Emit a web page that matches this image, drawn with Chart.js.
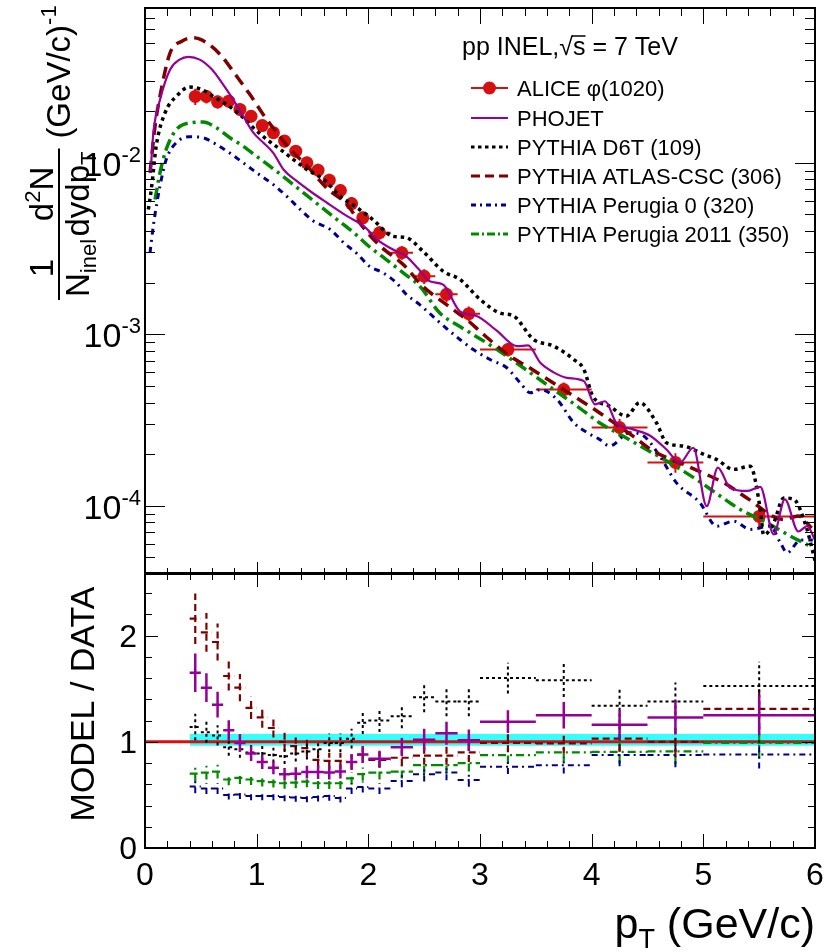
<!DOCTYPE html>
<html>
<head>
<meta charset="utf-8">
<script src="https://cdn.jsdelivr.net/npm/chart.js@4.4.0/dist/chart.umd.min.js"></script>
<style>
  body { margin: 0; background: #fff; }
  #wrap { position: relative; width: 825px; height: 952px; }
  canvas { position: absolute; left: 0; top: 0; }
</style>
</head>
<body>
<div id="wrap">
  <canvas id="topChart" width="825" height="952"></canvas>
  <canvas id="ratioChart" width="825" height="952"></canvas>
</div>
<script>
// pT bins of the ALICE phi(1020) measurement (GeV/c)
const binEdges = [0.4, 0.5, 0.6, 0.7, 0.8, 0.9, 1.0, 1.1, 1.2, 1.3, 1.4, 1.5, 1.6, 1.7, 1.8, 1.9, 2.0,
  2.2, 2.4, 2.6, 2.8, 3.0, 3.5, 4.0, 4.5, 5.0, 6.0];
const aliceYield = [0.0244, 0.0244, 0.0227, 0.0229, 0.0205, 0.0187, 0.0165, 0.0150, 0.0134, 0.0117,
  0.0100, 0.00906, 0.00792, 0.00690, 0.00579, 0.00478, 0.00391, 0.00299, 0.00218, 0.00171,
  0.00132, 0.000815, 0.000476, 0.000286, 0.000179, 0.0000867];
const aliceRelErr = [0.11, 0.09, 0.09, 0.085, 0.085, 0.08, 0.08, 0.08, 0.085, 0.085, 0.085, 0.09, 0.09,
  0.09, 0.09, 0.09, 0.09, 0.09, 0.10, 0.10, 0.10, 0.09, 0.10, 0.12, 0.13, 0.15];

// model spectra (pT, yield)
const phojetPt = [0.05, 0.075, 0.135, 0.225, 0.31, 0.39, 0.49, 0.60, 0.70, 0.79, 0.88, 0.97, 1.06, 1.15,
  1.24, 1.36, 1.48, 1.63, 1.81, 1.96, 2.08, 2.22, 2.34, 2.45, 2.55, 2.67, 2.82, 2.97, 3.15, 3.33, 3.43,
  3.54, 3.66, 3.78, 3.93, 4.03, 4.12, 4.22, 4.37, 4.52, 4.67, 4.79, 4.91, 5.03, 5.13, 5.24, 5.39, 5.51,
  5.63, 5.73, 5.85, 5.93, 6.0];
const phojetVal = [0.00875, 0.0150, 0.0234, 0.0350, 0.0400, 0.0415, 0.0400, 0.0350, 0.0286, 0.0234,
  0.0187, 0.0150, 0.0131, 0.0114, 0.00914, 0.00782, 0.00683, 0.00585, 0.00489, 0.00427, 0.00357,
  0.00312, 0.00285, 0.00240, 0.00204, 0.00195, 0.00136, 0.00128, 0.00105, 0.000853, 0.000861,
  0.000682, 0.000600, 0.000557, 0.000533, 0.000390, 0.000407, 0.000305, 0.000279, 0.000257,
  0.000213, 0.000178, 0.000218, 0.0000995, 0.000167, 0.000127, 0.000122, 0.000129, 0.0000681,
  0.000109, 0.0000708, 0.0000760, 0.0000631];

const d6tPt = [0.03, 0.06, 0.10, 0.18, 0.28, 0.40, 0.51, 0.61, 0.73, 0.85, 0.97, 1.09, 1.21, 1.33, 1.45,
  1.60, 1.75, 1.90, 2.04, 2.22, 2.34, 2.49, 2.67, 2.82, 3.0, 3.18, 3.30, 3.48, 3.66, 3.84, 3.93, 4.01,
  4.16, 4.31, 4.43, 4.58, 4.67, 4.82, 5.0, 5.12, 5.27, 5.42, 5.51, 5.54, 5.63, 5.72, 5.81, 5.92, 6.0];
const d6tVal = [0.00534, 0.00731, 0.0125, 0.0196, 0.0244, 0.0277, 0.0267, 0.0244, 0.0219, 0.0191,
  0.0160, 0.0137, 0.0120, 0.01045, 0.00914, 0.0080, 0.00638, 0.00547, 0.00467, 0.00373, 0.00366,
  0.00305, 0.00233, 0.00209, 0.00160, 0.00133, 0.00128, 0.000933, 0.000853, 0.000713, 0.000624,
  0.000436, 0.000381, 0.000333, 0.000399, 0.000305, 0.000233, 0.000223, 0.000200, 0.000186,
  0.000163, 0.000170, 0.0000955, 0.0000676, 0.0000794, 0.000111, 0.000109, 0.0000759, 0.0000479];

const atlasPt = [0.045, 0.09, 0.134, 0.224, 0.33, 0.433, 0.552, 0.672, 0.821, 0.94, 1.06, 1.18, 1.30,
  1.45, 1.63, 1.81, 1.93, 2.10, 2.31, 2.49, 2.70, 2.90, 3.0, 3.27, 3.42, 3.84, 4.03, 4.37, 4.55,
  4.88, 5.21, 5.39, 5.72, 5.85, 5.97];
const atlasVal = [0.00875, 0.0164, 0.0244, 0.0437, 0.0512, 0.0536, 0.0501, 0.0429, 0.0320, 0.0250,
  0.0191, 0.0150, 0.0120, 0.0096, 0.0071, 0.0057, 0.0044, 0.0033, 0.00256, 0.0019, 0.00149,
  0.00119, 0.00104, 0.000745, 0.000652, 0.000436, 0.000363, 0.000255, 0.000209, 0.000168,
  0.000133, 0.000111, 0.0000832, 0.0000871, 0.0000741];

const perugia0Pt = [0.045, 0.074, 0.134, 0.19, 0.28, 0.40, 0.52, 0.64, 0.76, 0.88, 1.0, 1.15, 1.27,
  1.39, 1.51, 1.66, 1.78, 1.90, 2.01, 2.13, 2.25, 2.34, 2.46, 2.64, 2.82, 2.94, 3.09, 3.24, 3.36,
  3.45, 3.54, 3.69, 3.84, 3.96, 4.07, 4.16, 4.34, 4.46, 4.61, 4.76, 4.97, 5.12, 5.27, 5.42, 5.60,
  5.69, 5.75, 5.87, 5.98];
const perugia0Val = [0.00299, 0.00427, 0.00731, 0.01045, 0.0131, 0.0142, 0.0140, 0.0128, 0.0114,
  0.0100, 0.00875, 0.00746, 0.00638, 0.00535, 0.00457, 0.00408, 0.00342, 0.00295, 0.00249,
  0.00229, 0.00200, 0.00171, 0.00149, 0.00117, 0.000933, 0.000815, 0.000713, 0.000638, 0.000521,
  0.000456, 0.000476, 0.000417, 0.000305, 0.000267, 0.000244, 0.000223, 0.000267, 0.000257,
  0.000195, 0.000136, 0.000104, 0.0000760, 0.0000813, 0.0000728, 0.0000760, 0.0000608,
  0.0000532, 0.0000631, 0.0000631];

const perugia11Pt = [0.09, 0.134, 0.19, 0.28, 0.40, 0.52, 0.64, 0.76, 0.88, 1.0, 1.12, 1.27, 1.42,
  1.57, 1.72, 1.87, 2.01, 2.16, 2.31, 2.46, 2.64, 2.82, 3.06, 3.24, 3.45, 3.66, 3.87, 4.07, 4.28,
  4.49, 4.70, 4.94, 5.15, 5.33, 5.57, 5.78, 5.96];
const perugia11Val = [0.00611, 0.00875, 0.0120, 0.0156, 0.0171, 0.0173, 0.0160, 0.0140, 0.0125,
  0.0109, 0.00955, 0.0080, 0.00668, 0.00558, 0.00467, 0.00391, 0.00324, 0.00273, 0.00229,
  0.00191, 0.00133, 0.00111, 0.000891, 0.000745, 0.000597, 0.000476, 0.000381, 0.000305,
  0.000255, 0.000213, 0.000178, 0.000142, 0.000114, 0.0000951, 0.0000796, 0.0000665, 0.0000581];

// MODEL / DATA ratios, one value per ALICE bin
const ratioPhojet = [1.65, 1.51, 1.35, 1.11, 0.99, 0.89, 0.81, 0.755, 0.695, 0.70, 0.715, 0.715, 0.71,
  0.72, 0.81, 0.88, 0.84, 0.95, 1.02, 1.08, 1.015, 1.19, 1.25, 1.16, 1.23, 1.25];
const ratioD6T = [1.14, 1.09, 1.06, 0.95, 0.93, 0.90, 0.89, 0.875, 0.865, 0.89, 0.91, 0.93, 0.99, 0.99,
  1.03, 1.18, 1.20, 1.24, 1.42, 1.38, 1.38, 1.60, 1.58, 1.34, 1.38, 1.525];
const ratioAtlas = [2.16, 2.03, 1.94, 1.62, 1.51, 1.32, 1.23, 1.13, 1.00, 0.96, 0.94, 0.83, 0.82, 0.82,
  0.81, 0.88, 0.83, 0.85, 0.87, 0.87, 0.90, 0.99, 0.985, 1.03, 1.00, 1.31];
const ratioPerugia0 = [0.58, 0.56, 0.56, 0.50, 0.505, 0.49, 0.49, 0.49, 0.48, 0.475, 0.47, 0.48, 0.49,
  0.47, 0.56, 0.575, 0.56, 0.63, 0.695, 0.71, 0.64, 0.765, 0.78, 0.875, 0.875, 0.88];
const ratioPerugia11 = [0.70, 0.71, 0.72, 0.645, 0.66, 0.645, 0.63, 0.62, 0.61, 0.615, 0.625, 0.61,
  0.61, 0.61, 0.655, 0.695, 0.71, 0.72, 0.78, 0.78, 0.80, 0.875, 0.90, 0.905, 0.91, 0.99];

// data uncertainty band and unity line in the ratio panel
const bandPt = [0.4, 6.0];
const bandLow = [0.963, 0.963];
const bandHigh = [1.073, 1.073];
const unityPt = [0, 6];
const unityVal = [1, 1];

// axis ticks
const xTickLabels = [0, 1, 2, 3, 4, 5, 6];
const logTickExps = [-2, -3, -4];
const ratioTickLabels = [0, 1, 2];

const legendTitle = 'pp INEL,';
const legendLabels = ['ALICE \u03c6(1020)', 'PHOJET', 'PYTHIA D6T (109)', 'PYTHIA ATLAS-CSC (306)',
  'PYTHIA Perugia 0 (320)', 'PYTHIA Perugia 2011 (350)'];

const FONT = '"Liberation Sans", Arial, Helvetica, sans-serif';
const font = (s) => `${s}px ${FONT}`;

const RED = '#d41010';
const PURPLE = '#960096';
const DKRED = '#800000';
const BLUE = '#00008f';
const GREEN = '#008a00';
const CYAN = '#33ffff';

const toXY = (xs, ys) => xs.map((x, i) => ({ x: x, y: ys[i] }));

// horizontal bin bar + vertical error bar for every bin, gaps between
const binBars = (vals, relErr) => {
  let pts = [];
  vals.forEach((v, i) => {
    let lo = binEdges[i];
    let hi = binEdges[i + 1];
    let c = (lo + hi) / 2;
    let e = v * relErr[i];
    pts.push({ x: lo, y: v }, { x: hi, y: v }, { x: hi, y: null });
    pts.push({ x: c, y: v - e }, { x: c, y: v + e }, { x: c, y: null });
  });
  return pts;
};
const binCenters = binEdges.slice(0, -1).map((lo, i) => (lo + binEdges[i + 1]) / 2);

const textRun = (ctx, pieces, x, y, rot, align) => {
  let total = 0;
  pieces.forEach((p) => {
    ctx.font = font(p.s);
    p.w = ctx.measureText(p.t).width;
    total += p.w;
  });
  ctx.save();
  ctx.translate(x, y);
  if (rot) ctx.rotate(rot);
  let u = align === 'center' ? -total / 2 : align === 'right' ? -total : 0;
  ctx.fillStyle = '#000';
  ctx.textAlign = 'left';
  ctx.textBaseline = 'alphabetic';
  pieces.forEach((p) => {
    ctx.font = font(p.s);
    ctx.fillText(p.t, u, p.dy || 0);
    u += p.w;
  });
  ctx.restore();
  return total;
};

// ROOT style frame with inward ticks on all four sides
const rootFrame = {
  id: 'rootFrame',
  afterDraw(chart, args, opts) {
    const { ctx, chartArea: a, scales } = chart;
    const xs = scales.x;
    const ys = scales.y;
    ctx.save();
    ctx.strokeStyle = '#000';
    ctx.lineWidth = 1;
    ctx.beginPath();
    for (let i = 0; i <= 30; i++) {
      let px = Math.round(xs.getPixelForValue(i * 0.2)) + 0.5;
      let major = i % 5 === 0;
      let lt = major ? opts.xTop[0] : opts.xTop[1];
      let lb = major ? opts.xBot[0] : opts.xBot[1];
      ctx.moveTo(px, a.top);
      ctx.lineTo(px, a.top + lt);
      ctx.moveTo(px, a.bottom);
      ctx.lineTo(px, a.bottom - lb);
    }
    opts.yTicks(ys).forEach((t) => {
      let py = Math.round(ys.getPixelForValue(t.v)) + 0.5;
      if (py < a.top - 1 || py > a.bottom + 1) return;
      let len = t.major ? opts.yLen[0] : opts.yLen[1];
      ctx.moveTo(a.left, py);
      ctx.lineTo(a.left + len, py);
      ctx.moveTo(a.right, py);
      ctx.lineTo(a.right - len, py);
    });
    ctx.stroke();
    ctx.lineWidth = 2;
    ctx.strokeRect(a.left, a.top, a.right - a.left, a.bottom - a.top);
    ctx.restore();
  },
};

const logTicks = (ys) => {
  let t = [];
  for (let d = -5; d <= -2; d++) {
    for (let k = 1; k <= 9; k++) {
      let v = k * Math.pow(10, d);
      if (v >= ys.min && v <= ys.max) t.push({ v: v, major: k === 1 });
    }
  }
  return t;
};
const linTicks = (ys) => {
  let t = [];
  for (let i = 0; i <= 12; i++) t.push({ v: i * 0.2, major: i % 5 === 0 });
  return t;
};

const topDecor = {
  id: 'topDecor',
  afterDraw(chart) {
    const { ctx, scales: { y } } = chart;
    const ds = chart.data.datasets;
    ctx.save();
    // log axis labels
    logTickExps.forEach((e) => {
      let py = y.getPixelForValue(Math.pow(10, e));
      textRun(ctx, [{ t: '10', s: 34 }, { t: String(e), s: 22, dy: -14 }], 141, py + 13, 0, 'right');
    });

    // y title, rotated
    const R = -Math.PI / 2;
    textRun(ctx, [{ t: '1', s: 33 }], 53, 268, R, 'center');
    let wN = textRun(ctx, [{ t: 'N', s: 33 }, { t: 'inel', s: 22, dy: 7 }], 89, 268, R, 'center');
    textRun(ctx, [{ t: 'd', s: 33 }, { t: '2', s: 22, dy: -13 }, { t: 'N', s: 33 }], 53, 194, R, 'center');
    let wD = textRun(ctx, [{ t: 'dydp', s: 33 }, { t: 'T', s: 22, dy: 7 }], 89, 194, R, 'center');
    textRun(ctx, [{ t: '(GeV/c)', s: 33 }, { t: '-1', s: 22, dy: -14 }], 70, 72, R, 'center');
    ctx.strokeStyle = '#000';
    ctx.lineWidth = 2;
    ctx.beginPath();
    ctx.moveTo(59, 268 + wN / 2 + 3);
    ctx.lineTo(59, 268 - wN / 2 - 3);
    ctx.moveTo(59, 194 + wD / 2 + 3);
    ctx.lineTo(59, 194 - wD / 2 - 3);
    ctx.stroke();

    // legend header with sqrt(s)
    let hx = 462;
    let hy = 55;
    hx += textRun(ctx, [{ t: legendTitle, s: 25 }], hx, hy);
    let wr = textRun(ctx, [{ t: '\u221a', s: 25 }], hx, hy);
    let ws = textRun(ctx, [{ t: 's', s: 25 }], hx + wr, hy);
    ctx.lineWidth = 1.5;
    ctx.beginPath();
    ctx.moveTo(hx + wr - 1, hy - 19);
    ctx.lineTo(hx + wr + ws, hy - 19);
    ctx.stroke();
    textRun(ctx, [{ t: ' = 7 TeV', s: 25 }], hx + wr + ws, hy);

    // legend entries, styled from the datasets
    const rows = [88, 118, 147, 176, 205, 234];
    const order = [5, 0, 1, 2, 3, 4];
    rows.forEach((ry, i) => {
      let d = ds[order[i]];
      ctx.save();
      ctx.strokeStyle = d.borderColor;
      ctx.lineWidth = i === 0 ? 2 : Math.min(d.borderWidth, 3);
      ctx.setLineDash(d.legendDash || []);
      ctx.beginPath();
      ctx.moveTo(471, ry);
      ctx.lineTo(508, ry);
      ctx.stroke();
      if (i === 0) {
        ctx.fillStyle = RED;
        ctx.beginPath();
        ctx.arc(489.5, ry, 6.5, 0, 2 * Math.PI);
        ctx.fill();
      }
      ctx.restore();
      textRun(ctx, [{ t: legendLabels[i], s: 22 }], 517, ry + 8);
    });
    ctx.restore();
  },
};

const ratioDecor = {
  id: 'ratioDecor',
  afterDraw(chart) {
    const { ctx, scales: { x, y } } = chart;
    ratioTickLabels.forEach((v) => {
      textRun(ctx, [{ t: String(v), s: 32 }], 137, y.getPixelForValue(v) + 11, 0, 'right');
    });
    xTickLabels.forEach((v) => {
      textRun(ctx, [{ t: String(v), s: 32 }], x.getPixelForValue(v), 885, 0, 'center');
    });
    textRun(ctx, [{ t: 'MODEL / DATA', s: 34 }], 94, 704, -Math.PI / 2, 'center');
    textRun(ctx, [{ t: 'p', s: 43 }, { t: 'T', s: 27, dy: 10 }, { t: ' (GeV/c)', s: 43 }], 815, 938, 0, 'right');
  },
};

const curve = (label, xs, ys, color, width, dash, legendDash) => ({
  label: label,
  data: toXY(xs, ys),
  borderColor: color,
  borderWidth: width,
  borderDash: dash,
  legendDash: legendDash,
  cubicInterpolationMode: 'monotone',
  pointRadius: 0,
  fill: false,
});

const topChart = new Chart(document.getElementById('topChart'), {
  type: 'line',
  data: {
    datasets: [
      curve('PHOJET', phojetPt, phojetVal, PURPLE, 2.2, [], []),
      curve('PYTHIA D6T (109)', d6tPt, d6tVal, '#000', 3.5, [3.5, 4], [3.5, 3.5]),
      curve('PYTHIA ATLAS-CSC (306)', atlasPt, atlasVal, DKRED, 3.5, [12, 7], [9, 5]),
      curve('PYTHIA Perugia 0 (320)', perugia0Pt, perugia0Val, BLUE, 3, [6, 5, 2, 5], [5, 4, 2, 4]),
      curve('PYTHIA Perugia 2011 (350)', perugia11Pt, perugia11Val, GREEN, 3.5, [12, 5, 3, 5], [8, 3, 2, 3]),
      {
        label: 'ALICE',
        data: toXY(binCenters, aliceYield),
        showLine: false,
        borderColor: RED,
        backgroundColor: RED,
        pointRadius: 6.5,
        pointBorderWidth: 0,
      },
      {
        label: 'ALICE errors',
        data: binBars(aliceYield, aliceRelErr),
        borderColor: RED,
        borderWidth: 2,
        pointRadius: 0,
        spanGaps: false,
        fill: false,
      },
    ],
  },
  options: {
    responsive: false,
    animation: false,
    devicePixelRatio: 1,
    events: [],
    layout: { padding: { left: 145, right: 10, top: 8, bottom: 952 - 574 } },
    scales: {
      x: { type: 'linear', min: 0, max: 6, display: false },
      y: { type: 'logarithmic', min: 4e-5, max: 0.08, display: false },
    },
    plugins: {
      legend: { display: false },
      tooltip: { enabled: false },
      rootFrame: { xTop: [16, 8], xBot: [12, 6], yLen: [20, 10], yTicks: logTicks },
    },
  },
  plugins: [rootFrame, topDecor],
});

const ratioSeries = (label, vals, color, width, dash) => ({
  label: label,
  data: binBars(vals, aliceRelErr),
  borderColor: color,
  borderWidth: width,
  borderDash: dash,
  pointRadius: 0,
  spanGaps: false,
  fill: false,
});

const ratioChart = new Chart(document.getElementById('ratioChart'), {
  type: 'line',
  data: {
    datasets: [
      ratioSeries('PHOJET', ratioPhojet, PURPLE, 2.5, []),
      ratioSeries('PYTHIA D6T (109)', ratioD6T, '#000', 2, [3, 3]),
      ratioSeries('PYTHIA ATLAS-CSC (306)', ratioAtlas, DKRED, 2.2, [7, 4]),
      ratioSeries('PYTHIA Perugia 0 (320)', ratioPerugia0, BLUE, 2, [6, 4, 2, 4]),
      ratioSeries('PYTHIA Perugia 2011 (350)', ratioPerugia11, GREEN, 2.2, [8, 4, 2, 4]),
      { label: 'unity', data: toXY(unityPt, unityVal), borderColor: RED, borderWidth: 3, pointRadius: 0, fill: false },
      {
        label: 'data high',
        data: toXY(bandPt, bandHigh),
        borderWidth: 0,
        borderColor: CYAN,
        backgroundColor: CYAN,
        pointRadius: 0,
        fill: '+1',
      },
      { label: 'data low', data: toXY(bandPt, bandLow), borderWidth: 0, borderColor: CYAN, pointRadius: 0, fill: false },
    ],
  },
  options: {
    responsive: false,
    animation: false,
    devicePixelRatio: 1,
    events: [],
    layout: { padding: { left: 145, right: 10, top: 573, bottom: 952 - 848 } },
    scales: {
      x: { type: 'linear', min: 0, max: 6, display: false },
      y: { type: 'linear', min: 0, max: 2.59, display: false },
    },
    plugins: {
      legend: { display: false },
      tooltip: { enabled: false },
      filler: { drawTime: 'beforeDatasetsDraw' },
      rootFrame: { xTop: [14, 7], xBot: [14, 7], yLen: [13, 7], yTicks: linTicks },
    },
  },
  plugins: [rootFrame, ratioDecor],
});
</script>
</body>
</html>
